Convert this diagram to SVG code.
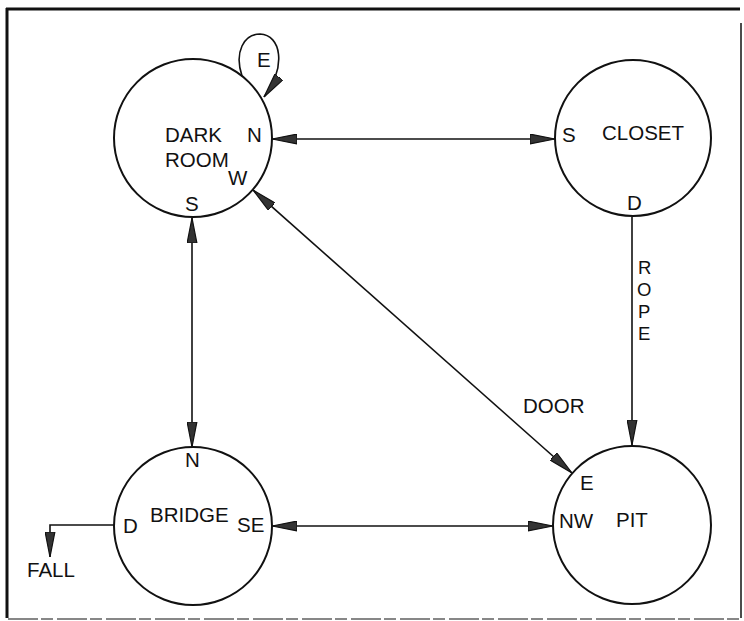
<svg xmlns="http://www.w3.org/2000/svg" width="744" height="621" viewBox="0 0 744 621">
  <style>
    .node { fill: none; stroke: #111; stroke-width: 2; }
    .lbl { font-family: "Liberation Sans", Arial, sans-serif; font-size: 20.5px; fill: #111; }
    .rope { font-family: "Liberation Sans", Arial, sans-serif; font-size: 18.5px; fill: #111; }
    .edge { fill: none; stroke: #111; stroke-width: 1.6; }
    .frame { stroke: #111; fill: none; }
  </style>
  <defs>
    <marker id="arrow" viewBox="0 0 25 11" refX="25" refY="5.5" markerUnits="userSpaceOnUse" markerWidth="25" markerHeight="11" orient="auto-start-reverse">
      <path d="M0,0.6 L25,5.5 L0,10.4 Z" fill="#333" stroke="#111" stroke-width="1.2"/>
    </marker>
  </defs>

  <rect width="744" height="621" fill="#fff"/>

  <!-- page frame -->
  <g id="frame">
    <line class="frame" x1="6" y1="9" x2="740" y2="9" stroke-width="3"/>
    <line class="frame" x1="7" y1="8" x2="7" y2="618" stroke-width="3"/>
    <line class="frame" x1="741" y1="23" x2="741" y2="618" stroke-width="1.5"/>
    <line class="frame" x1="8" y1="619" x2="741" y2="619" stroke-width="1.2" stroke="#555" stroke-dasharray="30 3 12 4"/>
  </g>

  <!-- connectors -->
  <g id="edges">
    <!-- DARK ROOM E loop -->
    <path class="edge" d="M242,76 C234,52 244,34 260,34 C281,35 287,66 264,97" marker-end="url(#arrow)"/>
    <!-- DARK ROOM N <-> CLOSET S -->
    <line class="edge" x1="272" y1="139" x2="555" y2="139" marker-start="url(#arrow)" marker-end="url(#arrow)"/>
    <!-- DARK ROOM S <-> BRIDGE N -->
    <line class="edge" x1="192" y1="218" x2="192" y2="447" marker-start="url(#arrow)" marker-end="url(#arrow)"/>
    <!-- DARK ROOM W <-> PIT E (DOOR) -->
    <line class="edge" x1="253" y1="190" x2="572" y2="473" marker-start="url(#arrow)" marker-end="url(#arrow)"/>
    <!-- CLOSET D -> PIT (ROPE) -->
    <line class="edge" x1="632" y1="217" x2="632" y2="445" marker-end="url(#arrow)"/>
    <!-- BRIDGE SE <-> PIT NW -->
    <line class="edge" x1="272" y1="526" x2="553" y2="526" marker-start="url(#arrow)" marker-end="url(#arrow)"/>
    <!-- BRIDGE D -> FALL -->
    <path class="edge" d="M114,525 L50,525 L50,557" marker-end="url(#arrow)"/>
  </g>

  <!-- edge labels -->
  <g id="edge-labels">
    <text class="lbl" x="257" y="67">E</text>
    <text class="lbl" x="523" y="413">DOOR</text>
    <text class="rope" x="638" y="274">R</text>
    <text class="rope" x="637" y="296">O</text>
    <text class="rope" x="638" y="318">P</text>
    <text class="rope" x="638" y="340">E</text>
    <text class="lbl" x="27" y="577">FALL</text>
  </g>

  <g id="dark-room">
    <circle class="node" cx="193" cy="138" r="79"/>
    <text class="lbl" x="165" y="142">DARK</text>
    <text class="lbl" x="165" y="167">ROOM</text>
    <text class="lbl" x="247" y="142">N</text>
    <text class="lbl" x="228" y="185">W</text>
    <text class="lbl" x="185" y="211">S</text>
  </g>

  <g id="closet">
    <circle class="node" cx="633" cy="138" r="78"/>
    <text class="lbl" x="562" y="142">S</text>
    <text class="lbl" x="602" y="140">CLOSET</text>
    <text class="lbl" x="627" y="210">D</text>
  </g>

  <g id="bridge">
    <circle class="node" cx="193" cy="526" r="79"/>
    <text class="lbl" x="185" y="467">N</text>
    <text class="lbl" x="150" y="522">BRIDGE</text>
    <text class="lbl" x="123" y="533">D</text>
    <text class="lbl" x="237" y="532">SE</text>
  </g>

  <g id="pit">
    <circle class="node" cx="632" cy="525" r="79"/>
    <text class="lbl" x="580" y="490">E</text>
    <text class="lbl" x="559" y="528">NW</text>
    <text class="lbl" x="616" y="527">PIT</text>
  </g>
</svg>
